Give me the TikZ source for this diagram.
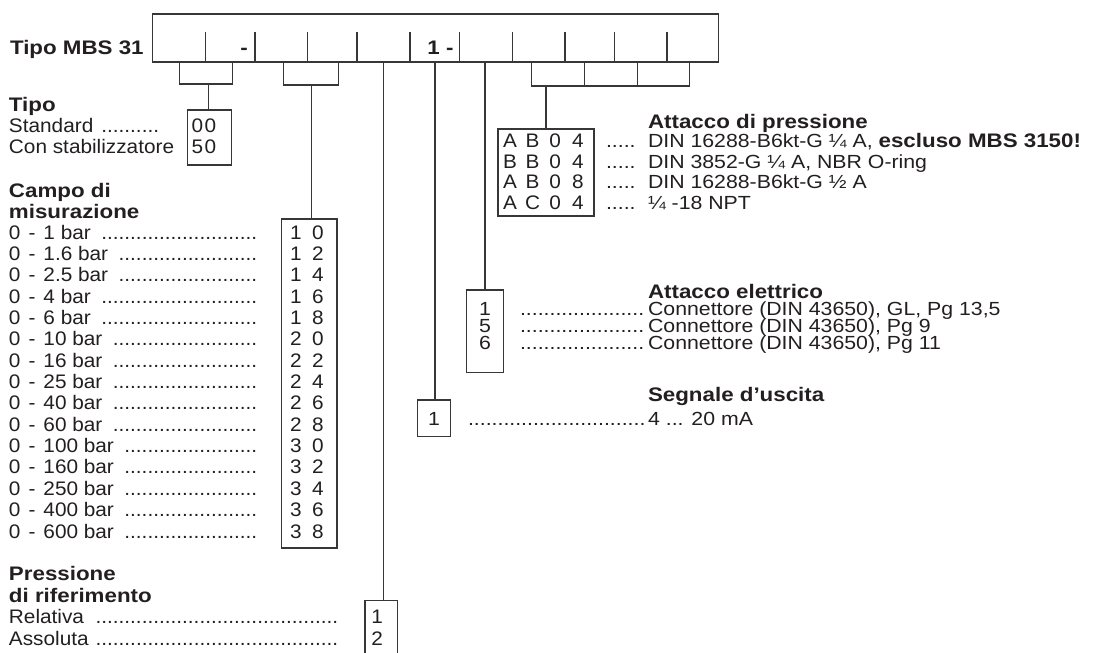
\documentclass[tikz,border=0pt]{standalone}
\usepackage{fontspec}
\setmainfont[FakeStretch=1.06]{Liberation Sans}
\newfontfamily\widebf[FakeStretch=1.14]{Liberation Sans Bold}
\newfontfamily\rightrm[FakeStretch=1.12]{Liberation Sans}
\definecolor{tc}{RGB}{35,31,32}
\definecolor{lc}{RGB}{55,55,55}
\newcommand\fsz{\fontsize{19.6}{21.4}\selectfont}
\newcommand\rsz{\fontsize{19}{20}\selectfont}
\newcommand\dleader[1]{\makebox[#1][l]{\leaders\hbox{.}\hfill}}
\newcommand\cc[2]{\makebox[#1]{#2}}
\newcommand\rng[1]{0\hspace{8pt}-\hspace{8pt}#1 bar}
\tikzset{
  ln/.style={line width=1.1pt, draw=lc},
  cbox/.style={draw=lc, line width=1.1pt, rectangle, inner sep=0pt, outer sep=0pt, anchor=north west},
  txt/.style={anchor=base west, inner sep=0pt, outer sep=0pt, text=tc, font=\fsz},
  rtxt/.style={txt, font=\rsz\rightrm},
  hd/.style={txt, font=\fsz\widebf},
}
\begin{document}
\begin{tikzpicture}[x=1pt,y=-1pt]
\useasboundingbox (0,0) rectangle (1098,653);

% ---- top code box ----
\node[cbox, minimum width=566pt, minimum height=48pt] (top) at (152.7,14) {};
\foreach \x [count=\i] in {205.7,255,307.7,357,410,459.3,512.3,565,614.3,667}
  \draw[ln] (\x,32) -- (\x,62);
\node[hd] (title) at (10,54) {Tipo MBS 31};
\node[hd] (dash1) at (240.4,54) {-};
\node[hd] (one) at (427.4,54) {1 -};

% ---- code boxes ----
\node[cbox, minimum width=44pt, minimum height=55pt] (box00) at (187.7,110) {};
\node[cbox, minimum width=55.7pt, minimum height=329pt] (box10) at (281.3,219) {};
\node[cbox, minimum width=32.3pt, minimum height=70pt] (box12) at (365,600.7) {};
\node[cbox, minimum width=33.4pt, minimum height=36.7pt] (boxsig) at (417.3,400) {};
\node[cbox, minimum width=36.6pt, minimum height=82.3pt] (boxel) at (466.7,290) {};
\node[cbox, minimum width=96pt, minimum height=87pt] (boxab) at (498,129) {};

% ---- brackets and connectors ----
\coordinate (b1a) at (179.3,62); \coordinate (b1b) at (232.7,62); \coordinate (b1m) at (208.3,84);
\draw[ln] (b1a) -- ++(0,22) -| (b1b);
\draw[ln] (b1m) -- (b1m |- box00.north);

\coordinate (b2a) at (283.7,62); \coordinate (b2b) at (338.3,62); \coordinate (b2m) at (311.7,85);
\draw[ln] (b2a) -- ++(0,23) -| (b2b);
\draw[ln] (b2m) -- (b2m |- box10.north);

\coordinate (c5) at (383.3,62);
\draw[ln] (c5) -- (c5 |- box12.north);
\coordinate (c6) at (435,62);
\draw[ln] (c6) -- (c6 |- boxsig.north);
\coordinate (c7) at (485,62);
\draw[ln] (c7) -- (c7 |- boxel.north);

\coordinate (b3a) at (531.7,62); \coordinate (b3b) at (689.3,62);
\coordinate (b3t1) at (584.3,62); \coordinate (b3t2) at (637.3,62);
\coordinate (b3m) at (546,86);
\draw[ln] (b3a) -- ++(0,24) -| (b3b);
\draw[ln] (b3t1) -- ++(0,24);
\draw[ln] (b3t2) -- ++(0,24);
\draw[ln] (b3m) -- (b3m |- boxab.north);

% ---- Tipo ----
\node[hd] (h1) at (9,111) {Tipo};
\node[txt] (t1a) at (9,132) {\makebox[151pt][l]{Standard \leaders\hbox{.}\hfill}};
\node[txt] (t1b) at (9,153.7) {Con stabilizzatore};
\node[txt] (k1a) at (191,132) {\cc{13pt}{0}\cc{13pt}{0}};
\node[txt] (k1b) at (191,153.7) {\cc{13pt}{5}\cc{13pt}{0}};

% ---- Campo di misurazione ----
\node[hd] (h2a) at (9,197) {Campo di};
\node[hd] (h2b) at (9,218) {misurazione};
\foreach \r/\c/\d [count=\i from 0] in {1/1/0,1.6/1/2,2.5/1/4,4/1/6,6/1/8,10/2/0,16/2/2,25/2/4,40/2/6,60/2/8,100/3/0,160/3/2,250/3/4,400/3/6,600/3/8}{
  \node[txt] (r\i) at (9,239+21.36*\i) {\makebox[249pt][l]{\rng{\r} \leaders\hbox{.}\hfill}};
  \node[txt] (k\i) at (285,239+21.36*\i) {\cc{22pt}{\c}\cc{22pt}{\d}};
}

% ---- Pressione di riferimento ----
\node[hd] (h3a) at (9,580) {Pressione};
\node[hd] (h3b) at (9,602) {di riferimento};
\node[txt] (t3a) at (9,623) {\makebox[333pt][l]{Relativa \leaders\hbox{.}\hfill}};
\node[txt] (t3b) at (9,645) {\makebox[333pt][l]{Assoluta \leaders\hbox{.}\hfill}};
\node[txt] (k3a) at (371.4,623) {1};
\node[txt] (k3b) at (371.4,645) {2};

% ---- Attacco di pressione ----
\node[hd] (h4) at (648,128) {Attacco di pressione};
\foreach \a/\b/\c/\d/\t [count=\i from 0] in {
  A/B/0/4/{DIN 16288-B6kt-G ¼ A, {\fsz\widebf escluso MBS 3150!}},
  B/B/0/4/{DIN 3852-G ¼ A, NBR O-ring},
  A/B/0/8/{DIN 16288-B6kt-G ½ A},
  A/C/0/4/{¼ -18 NPT}}{
  \node[txt] (p\i) at (498.7,147.5+20.5*\i) {\cc{22.6pt}{\a}\cc{22.6pt}{\b}\cc{22.6pt}{\c}\cc{22.6pt}{\d}};
  \node[rtxt] (q\i) at (606,147.5+20.5*\i) {\makebox[42pt][l]{.....}\t};
}

% ---- Attacco elettrico ----
\node[hd] (h5) at (648,298) {Attacco elettrico};
\foreach \n/\t [count=\i from 0] in {1/{Connettore (DIN 43650), GL, Pg 13,5},5/{Connettore (DIN 43650), Pg 9},6/{Connettore (DIN 43650), Pg 11}}{
  \node[rtxt] (e\i) at (479.2,315.5+17*\i) {\n};
  \node[rtxt] (f\i) at (520,315.5+17*\i) {\dleader{128pt}\t};
}

% ---- Segnale d'uscita ----
\node[hd] (h6) at (648,401) {Segnale d’uscita};
\node[rtxt] (s1) at (428.2,425.5) {1};
\node[rtxt] (s2) at (468,425.5) {\dleader{180pt}4 ... 20 mA};
\end{tikzpicture}
\end{document}
